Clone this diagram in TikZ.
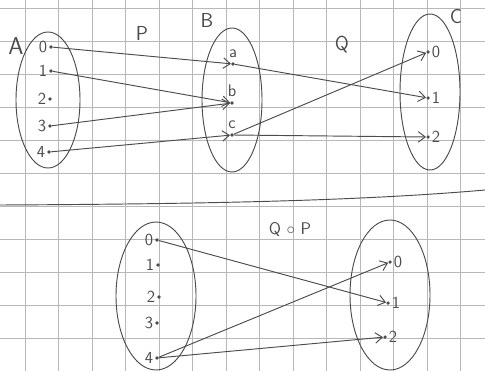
\documentclass[tikz,border=0pt]{standalone}
\usepackage{amsmath, amssymb}
\usepackage{tikz}
\usetikzlibrary{arrows.meta}
\definecolor{lapiz}{gray}{0.3}
\definecolor{cuadro}{gray}{0.72}
\tikzset{
  pt/.style={circle, fill=lapiz, inner sep=0pt, minimum size=3pt},
  etq/.style={text=lapiz, font=\sffamily\Large, inner sep=1.5pt},
  nombre/.style={text=lapiz, font=\sffamily\LARGE},
  flecha/.style={draw=lapiz, thick, -{Straight Barb[length=6pt, width=9pt]}},
  conj/.style={draw=lapiz, thick},
}
\begin{document}
\begin{tikzpicture}[x=0.03cm, y=-0.03cm]
  \useasboundingbox (0,0) rectangle (485,371);
  \fill[white] (0,0) rectangle (485,371);

  % Cuadricula
  \foreach \x in {0,...,13}
    \draw[cuadro] ({25+33.5*\x},0) -- ({25+33.5*\x},371);
  \foreach \y in {0,...,11}
    \draw[cuadro] (0,{8+33*\y}) -- (485,{8+33*\y});

  % Conjuntos de arriba
  \draw[conj] (48,100) ellipse [x radius=32, y radius=68];
  \draw[conj] (232,100) ellipse [x radius=30, y radius=72];
  \draw[conj] (430,92) ellipse [x radius=30, y radius=78];
  \node[nombre, font=\sffamily\huge] (nA) at (16,46) {A};
  \node[nombre] (nB) at (207,20) {B};
  \node[nombre] (nC) at (456,17) {C};
  \node[nombre] (nP) at (142,33) {P};
  \node[nombre] (nQ) at (342,45) {Q};

  % Elementos de A
  \node[pt, label={[etq]left:0}] (a0) at (51,47) {};
  \node[pt, label={[etq]left:1}] (a1) at (51,71) {};
  \node[pt, label={[etq]left:2}] (a2) at (50,99) {};
  \node[pt, label={[etq]left:3}] (a3) at (50,126) {};
  \node[pt, label={[etq]left:4}] (a4) at (49,152) {};

  % Elementos de B
  \node[pt, label={[etq, label distance=2pt]above:a}] (ba) at (233,64) {};
  \node[pt, label={[etq, label distance=2pt]above:b}] (bb) at (232,103) {};
  \node[pt, label={[etq, label distance=2pt]above:c}] (bc) at (232,135) {};

  % Elementos de C
  \node[pt, label={[etq]right:0}] (c0) at (428,52) {};
  \node[pt, label={[etq]right:1}] (c1) at (428,98) {};
  \node[pt, label={[etq]right:2}] (c2) at (428,137) {};

  % P y Q
  \draw[flecha] (a0) -- (ba);
  \draw[flecha] (a1) -- (bb);
  \draw[flecha] (a3) -- (bb);
  \draw[flecha] (a4) -- (bc);
  \draw[flecha] (ba) -- (c1);
  \draw[flecha] (bc) -- (c0);
  \draw[flecha] (bc) -- (c2);

  % Linea de separacion
  \draw[lapiz, thick] (0,205) .. controls (200,204) and (360,201) .. (485,190);

  % Composicion
  \node[nombre, font=\sffamily\Large] (nQP) at (290,230) {Q $\circ$ P};
  \draw[conj] (156,296) ellipse [x radius=40, y radius=74];
  \draw[conj] (390,295) ellipse [x radius=40, y radius=75];

  \node[pt, label={[etq]left:0}] (d0) at (157,240) {};
  \node[pt, label={[etq]left:1}] (d1) at (158,265) {};
  \node[pt, label={[etq]left:2}] (d2) at (159,297) {};
  \node[pt, label={[etq]left:3}] (d3) at (157,323) {};
  \node[pt, label={[etq]left:4}] (d4) at (157,358) {};

  \node[pt, label={[etq]right:0}] (e0) at (390,262) {};
  \node[pt, label={[etq]right:1}] (e1) at (388,303) {};
  \node[pt, label={[etq]right:2}] (e2) at (385,337) {};

  \draw[flecha] (d0) -- (e1);
  \draw[flecha] (d4) -- (e0);
  \draw[flecha] (d4) -- (e2);
\end{tikzpicture}
\end{document}
